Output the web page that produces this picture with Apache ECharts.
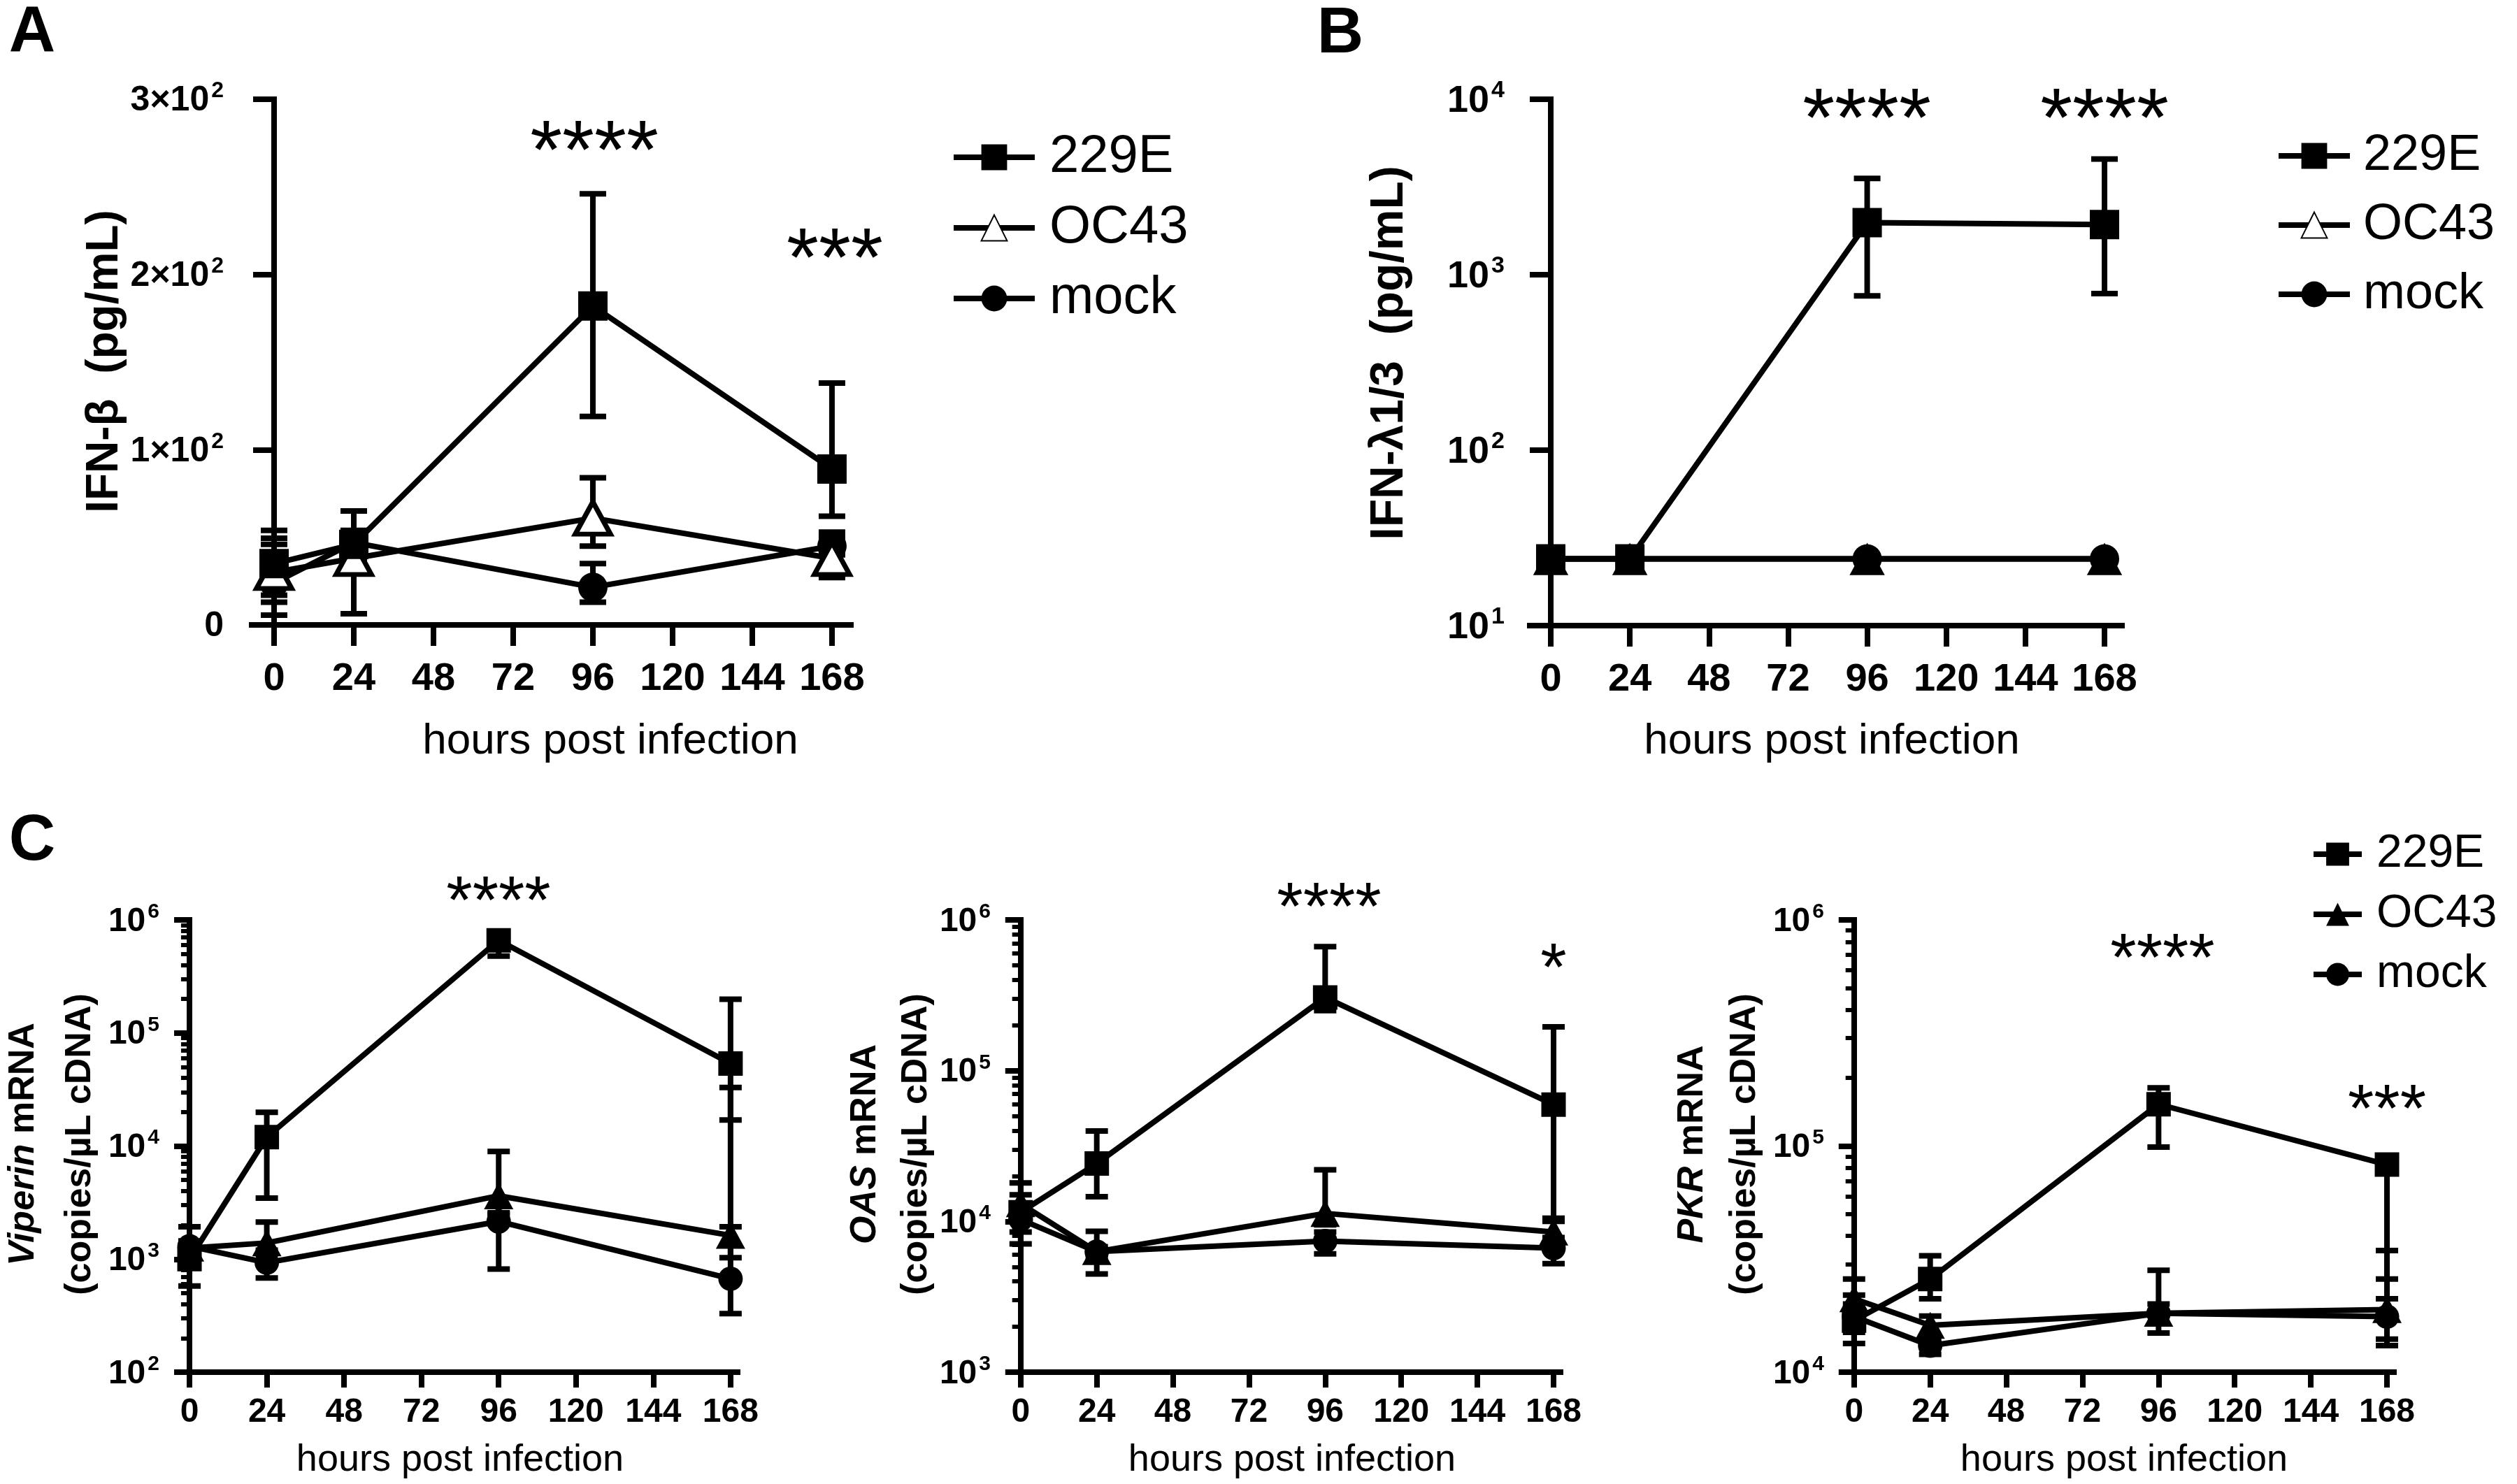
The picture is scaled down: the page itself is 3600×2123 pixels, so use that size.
<!DOCTYPE html>
<html><head><meta charset="utf-8">
<script src="https://cdn.jsdelivr.net/npm/echarts@6/dist/echarts.min.js"></script>
<style>html,body{margin:0;padding:0;background:#fff}#c{width:3600px;height:2123px}</style>
</head><body><div id="c"></div>
<script>
// ---------------- DATA ----------------
const hours = [0, 24, 96, 168];
const xTicks = [0, 24, 48, 72, 96, 120, 144, 168];
const groupNames = ['229E', 'OC43', 'mock'];

// Panel A: IFN-beta (pg/mL)
const ifnB_229E = [35, 46, 182, 89];
const ifnB_229E_lo = [17, 38, 119, 62];
const ifnB_229E_hi = [54, 65, 246, 138];
const ifnB_OC43 = [30, 38, 61, 38];
const ifnB_OC43_lo = [13, 6.4, 45, 27];
const ifnB_OC43_hi = [49.5, 50, 84, 50];
const ifnB_mock = [24, 47, 21.5, 45];
const ifnB_mock_lo = [5.6, 40, 13, 40];
const ifnB_mock_hi = [46, 54, 35, 53];

// Panel B: IFN-lambda1/3 (pg/mL)
const ifnL_229E = [24, 24, 1980, 1930];
const ifnL_229E_lo = [null, null, 757, 780];
const ifnL_229E_hi = [null, null, 3540, 4560];
const ifnL_OC43 = [24, 24, 24, 24];
const ifnL_mock = [24, 24, 24, 24];

// Panel C1: Viperin mRNA (copies/uL cDNA)
const vip_229E = [1000, 12000, 660000, 53600];
const vip_229E_lo = [578, 3460, 478000, 17000];
const vip_229E_hi = [1930, 19900, 700000, 199000];
const vip_OC43 = [1250, 1390, 3630, 1620];
const vip_OC43_lo = [1100, 1200, 2570, 1030];
const vip_OC43_hi = [1400, 2130, 8960, 33000];
const vip_mock = [1300, 930, 2150, 670];
const vip_mock_lo = [1150, 680, 815, 330];
const vip_mock_hi = [1450, 1110, 2500, 1930];

// Panel C2: OAS mRNA
const oas_229E = [11500, 24200, 306000, 59600];
const oas_229E_lo = [8500, 14600, 250000, 10500];
const oas_229E_hi = [18000, 39800, 665000, 195000];
const oas_OC43 = [13100, 6300, 11300, 8500];
const oas_OC43_lo = [11000, 5800, 9500, 7500];
const oas_OC43_hi = [15000, 6800, 22000, 10000];
const oas_mock = [10300, 6300, 7400, 6650];
const oas_mock_lo = [7100, 4480, 6100, 5250];
const oas_mock_hi = [12000, 8600, 8500, 7800];

// Panel C3: PKR mRNA
const pkr_229E = [16900, 25800, 153000, 82800];
const pkr_229E_lo = [13400, 21100, 99000, 25800];
const pkr_229E_hi = [21900, 32700, 181000, 88000];
const pkr_OC43 = [21100, 16100, 18200, 18900];
const pkr_OC43_lo = [19000, 14500, 14900, 14000];
const pkr_OC43_hi = [25800, 17700, 28200, 34500];
const pkr_mock = [17600, 13100, 18200, 17600];
const pkr_mock_lo = [15000, 12000, 16500, 13100];
const pkr_mock_hi = [20000, 14000, 20000, 21100];

// ---------------- STYLE / LAYOUT ----------------
const FONT = '"Liberation Sans", Arial, Helvetica, sans-serif';
const BLACK = '#000';

const panels = [
  { left: 360, top: 142, width: 857, height: 752, xmin: -6.74, xmax: 173.7, log: false, ymin: 0, ymax: 300,
    lw: 8, tickLen: 30, xLabMargin: 50, yLabMargin: 40, labSize: 56, yLabSize: 50, supSize: 32, symSize: 42, capW: 38,
    series: [
      { name: '229E', v: ifnB_229E, lo: ifnB_229E_lo, hi: ifnB_229E_hi, sym: 'rect', open: false },
      { name: 'OC43', v: ifnB_OC43, lo: ifnB_OC43_lo, hi: ifnB_OC43_hi, sym: 'triangle', open: true },
      { name: 'mock', v: ifnB_mock, lo: ifnB_mock_lo, hi: ifnB_mock_hi, sym: 'circle', open: false } ] },
  { left: 2188, top: 142, width: 847, height: 753, xmin: -6.36, xmax: 173.3, log: true, ymin: 10, ymax: 10000,
    lw: 8, tickLen: 30, xLabMargin: 50, yLabMargin: 36, labSize: 56, yLabSize: 54, supSize: 34, symSize: 42, capW: 38,
    series: [
      { name: '229E', v: ifnL_229E, lo: ifnL_229E_lo, hi: ifnL_229E_hi, sym: 'rect', open: false },
      { name: 'OC43', v: ifnL_OC43, sym: 'triangle', open: false },
      { name: 'mock', v: ifnL_mock, sym: 'circle', open: false } ] },
  { left: 254, top: 1316, width: 801, height: 647, xmin: -3.7, xmax: 170.2, log: true, ymin: 100, ymax: 1e6,
    lw: 8, tickLen: 22, xLabMargin: 34, yLabMargin: 26, labSize: 48, yLabSize: 48, supSize: 30, symSize: 35, capW: 32, minor: true,
    series: [
      { name: '229E', v: vip_229E, lo: vip_229E_lo, hi: vip_229E_hi, sym: 'rect' },
      { name: 'OC43', v: vip_OC43, lo: vip_OC43_lo, hi: vip_OC43_hi, sym: 'triangle' },
      { name: 'mock', v: vip_mock, lo: vip_mock_lo, hi: vip_mock_hi, sym: 'circle' } ] },
  { left: 1443, top: 1316, width: 789, height: 647, xmin: -3.7, xmax: 170.2, log: true, ymin: 1000, ymax: 1e6,
    lw: 8, tickLen: 22, xLabMargin: 34, yLabMargin: 26, labSize: 48, yLabSize: 48, supSize: 30, symSize: 35, capW: 32, minor: true,
    series: [
      { name: '229E', v: oas_229E, lo: oas_229E_lo, hi: oas_229E_hi, sym: 'rect' },
      { name: 'OC43', v: oas_OC43, lo: oas_OC43_lo, hi: oas_OC43_hi, sym: 'triangle' },
      { name: 'mock', v: oas_mock, lo: oas_mock_lo, hi: oas_mock_hi, sym: 'circle' } ] },
  { left: 2635, top: 1316, width: 789, height: 647, xmin: -3.7, xmax: 170.2, log: true, ymin: 10000, ymax: 1e6,
    lw: 8, tickLen: 22, xLabMargin: 34, yLabMargin: 26, labSize: 48, yLabSize: 48, supSize: 30, symSize: 35, capW: 32, minor: true,
    series: [
      { name: '229E', v: pkr_229E, lo: pkr_229E_lo, hi: pkr_229E_hi, sym: 'rect' },
      { name: 'OC43', v: pkr_OC43, lo: pkr_OC43_lo, hi: pkr_OC43_hi, sym: 'triangle' },
      { name: 'mock', v: pkr_mock, lo: pkr_mock_lo, hi: pkr_mock_hi, sym: 'circle' } ] }
];

const grids = [], xAxes = [], yAxes = [], series = [];

function richFor(p) {
  const lh = p.yLabSize * 1.1;
  return {
    b: { fontSize: p.yLabSize, fontWeight: 'bold', fontFamily: FONT, color: BLACK, verticalAlign: 'bottom', lineHeight: lh },
    s: { fontSize: p.supSize, fontWeight: 'bold', fontFamily: FONT, color: BLACK, verticalAlign: 'top', lineHeight: lh, padding: [0, 0, 0, 3] }
  };
}

panels.forEach((p, i) => {
  grids.push({ left: p.left, top: p.top, width: p.width, height: p.height, containLabel: false, outerBoundsMode: 'none' });
  xAxes.push({
    gridIndex: i, type: 'value', min: p.xmin, max: p.xmax,
    axisLine: { show: true, onZero: false, lineStyle: { color: BLACK, width: p.lw, cap: 'square' } },
    axisTick: { show: true, customValues: xTicks, length: p.tickLen, lineStyle: { color: BLACK, width: p.lw } },
    axisLabel: { show: true, customValues: xTicks, margin: p.xLabMargin, fontSize: p.labSize, fontWeight: 'bold', fontFamily: FONT, color: BLACK },
    splitLine: { show: false }
  });
  const y = {
    gridIndex: i,
    axisLine: { show: true, onZero: true, lineStyle: { color: BLACK, width: p.lw, cap: 'square' } },
    axisTick: { show: true, length: p.tickLen, lineStyle: { color: BLACK, width: p.lw } },
    axisLabel: { show: true, margin: p.yLabMargin, rich: richFor(p) },
    splitLine: { show: false }
  };
  if (p.log) {
    Object.assign(y, { type: 'log', logBase: 10, min: p.ymin, max: p.ymax });
    y.axisLabel.formatter = v => '{b|10}{s|' + Math.round(Math.log10(v)) + '}';
    if (p.minor) y.minorTick = { show: true, splitNumber: 9, length: p.tickLen * 0.55, lineStyle: { color: BLACK, width: p.lw - 2 } };
  } else {
    Object.assign(y, { type: 'value', min: p.ymin, max: p.ymax, interval: 100 });
    y.axisLabel.formatter = v => v === 0 ? '{b|0}' : '{b|' + (v / 100) + '×10}{s|2}';
  }
  yAxes.push(y);

  p.series.forEach((s, k) => {
    const z = 10 - k;
    const itemStyle = s.open
      ? { color: '#fff', borderColor: BLACK, borderWidth: p.lw - 1 }
      : { color: BLACK, borderWidth: 0 };
    const size = s.sym === 'triangle' ? [p.symSize * 1.2, p.symSize * 1.1] : p.symSize;
    series.push({
      type: 'line', name: s.name, xAxisIndex: i, yAxisIndex: i, z: z,
      data: hours.map((h, j) => [h, s.v[j]]),
      symbol: s.sym, symbolSize: size, showSymbol: true, clip: false,
      lineStyle: { color: BLACK, width: p.lw },
      itemStyle: itemStyle,
      emphasis: { disabled: true }, silent: true
    });
    if (s.lo) {
      series.push({
        type: 'custom', name: 'err-' + i + '-' + k, xAxisIndex: i, yAxisIndex: i, z: 3, silent: true,
        data: hours.map((h, j) => [h, s.lo[j], s.hi[j]]),
        encode: { x: 0, y: [1, 2] },
        renderItem: (params, api) => {
          const lo = api.value(1), hi = api.value(2);
          if (lo == null || hi == null || isNaN(lo) || isNaN(hi)) return null;
          const x = api.value(0);
          const a = api.coord([x, lo]), b = api.coord([x, hi]);
          const hw = p.capW / 2;
          const st = { stroke: BLACK, lineWidth: p.lw };
          return { type: 'group', children: [
            { type: 'line', shape: { x1: a[0], y1: a[1], x2: b[0], y2: b[1] }, style: st },
            { type: 'line', shape: { x1: a[0] - hw, y1: a[1], x2: a[0] + hw, y2: a[1] }, style: st },
            { type: 'line', shape: { x1: b[0] - hw, y1: b[1], x2: b[0] + hw, y2: b[1] }, style: st }
          ] };
        }
      });
    }
  });
});

// ---------------- TEXT ----------------
function txt(x, y, text, font, opts) {
  return Object.assign({ type: 'text', x: x, y: y, silent: true,
    style: Object.assign({ text: text, font: font, fill: BLACK, align: 'center', verticalAlign: 'middle' }, (opts && opts.style) || {}) },
    (opts && opts.el) || {});
}
const R90 = Math.PI / 2;
function stars(x, y, n, size) {
  return txt(x, y + size * 0.17, '*'.repeat(n), size + 'px ' + FONT);
}
function yTitle2(x1, x2, y, ital, size) {
  return [
    { type: 'text', x: x1, y: y, rotation: R90, silent: true,
      style: { text: '{i|' + ital + '}{n| mRNA}', align: 'center', verticalAlign: 'middle',
        rich: { i: { fontSize: size, fontWeight: 'bold', fontStyle: 'italic', fontFamily: FONT, fill: BLACK },
                n: { fontSize: size, fontWeight: 'bold', fontFamily: FONT, fill: BLACK } } } },
    txt(x2, y, '(copies/µL cDNA)', 'bold ' + size + 'px ' + FONT, { el: { rotation: R90 } })
  ];
}

const graphics = [
  txt(46, 48, 'A', 'bold 92px ' + FONT),
  txt(1917, 50, 'B', 'bold 92px ' + FONT),
  txt(46, 1205, 'C', 'bold 92px ' + FONT),
  txt(150, 517, 'IFN-β  (pg/mL)', 'bold 64px ' + FONT, { el: { rotation: R90 } }),
  txt(1988, 505, 'IFN-λ1/3  (pg/mL)', 'bold 66px ' + FONT, { el: { rotation: R90 } }),
  txt(873, 1061, 'hours post infection', '62px ' + FONT),
  txt(2620, 1061, 'hours post infection', '62px ' + FONT),
  txt(658, 2089, 'hours post infection', '54px ' + FONT),
  txt(1848, 2089, 'hours post infection', '54px ' + FONT),
  txt(3038, 2089, 'hours post infection', '54px ' + FONT),
  ...yTitle2(34, 115, 1637, 'Viperin', 52),
  ...yTitle2(1238, 1311, 1637, 'OAS', 52),
  ...yTitle2(2421, 2496, 1637, 'PKR', 52),
  stars(850, 202, 4, 118), stars(1194, 356, 3, 118),
  stars(2670, 156, 4, 118), stars(3010, 156, 4, 118),
  stars(713, 1277, 4, 96),
  stars(1901, 1286, 4, 96), stars(2222, 1373, 1, 96),
  stars(3093, 1359, 4, 96), stars(3414, 1575, 3, 96)
];

const option = {
  backgroundColor: '#fff',
  animation: false,
  grid: grids, xAxis: xAxes, yAxis: yAxes, series: series,
  legend: [
    { orient: 'vertical', selectedMode: false, left: 1355, top: 182, itemWidth: 116, itemHeight: 46, itemGap: 25,
      lineStyle: { width: 8, color: BLACK },
      textStyle: { fontSize: 76, fontFamily: FONT, color: BLACK, padding: [0, 0, 0, 16] }, data: groupNames },
    { orient: 'vertical', selectedMode: false, left: 3250, top: 182, itemWidth: 102, itemHeight: 46, itemGap: 27,
      lineStyle: { width: 8, color: BLACK },
      textStyle: { fontSize: 72, fontFamily: FONT, color: BLACK, padding: [0, 0, 0, 14] }, data: groupNames },
    { orient: 'vertical', selectedMode: false, left: 3300, top: 1184, itemWidth: 69, itemHeight: 41, itemGap: 20,
      lineStyle: { width: 8, color: BLACK },
      textStyle: { fontSize: 66, fontFamily: FONT, color: BLACK, padding: [0, 0, 0, 16] },
      data: [ { name: '229E' }, { name: 'OC43', itemStyle: { color: BLACK, borderWidth: 0 } }, { name: 'mock' } ] }
  ],
  graphic: graphics
};

const chart = echarts.init(document.getElementById('c'), null, { renderer: 'canvas' });
chart.setOption(option);
</script>
</body></html>
